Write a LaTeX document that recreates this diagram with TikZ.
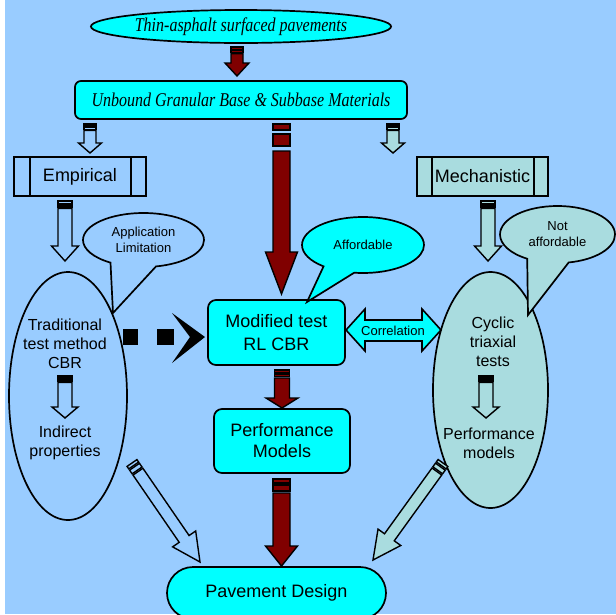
\documentclass[tikz,border=0pt]{standalone}
\usepackage{fontspec}
\setmainfont{Liberation Sans}
\newfontfamily\tmsfont[FakeStretch=0.82]{Liberation Serif}
\usetikzlibrary{calc,shapes.geometric,shapes.callouts}
\definecolor{bgblue}{HTML}{99CCFF}
\definecolor{cyanf}{HTML}{00FFFF}
\definecolor{dred}{HTML}{800000}
\definecolor{tealf}{HTML}{A9DCDF}
% block arrow: #1 tail, #2 tip, #3 shaft start, #4 half shaft, #5 half head, #6 head length, #7 style
\newcommand\barrow[7]{%
  \path ($(#1)!#3pt!(#2)$) coordinate (ba-s) ($(#2)!#6pt!(#1)$) coordinate (ba-h);
  \draw[#7] ($(ba-s)!#4pt!90:(#2)$) -- ($(ba-h)!#4pt!90:(#2)$) -- ($(ba-h)!#5pt!90:(#2)$) -- (#2)
    -- ($(ba-h)!#5pt!-90:(#2)$) -- ($(ba-h)!#4pt!-90:(#2)$) -- ($(ba-s)!#4pt!-90:(#2)$) -- cycle;}
% stripe: #1 tail, #2 tip, #3 from, #4 to, #5 half width, #6 style
\newcommand\bstripe[6]{%
  \path ($(#1)!#3pt!(#2)$) coordinate (bs-a) ($(#1)!#4pt!(#2)$) coordinate (bs-b);
  \draw[#6] ($(bs-a)!#5pt!90:(#2)$) -- ($(bs-b)!#5pt!90:(#2)$) -- ($(bs-b)!#5pt!-90:(#2)$) -- ($(bs-a)!#5pt!-90:(#2)$) -- cycle;}
\begin{document}
\begin{tikzpicture}[x=1pt,y=-1pt,
  arr/.style={draw=black,line width=1.4pt,line join=miter},
  redarr/.style={arr,fill=dred},
  bluearr/.style={arr,fill=bgblue},
  tealarr/.style={arr,fill=tealf},
  shp/.style={draw=black,line width=1.7pt,inner sep=0pt},
  fA/.style={font=\fontsize{18}{22}\selectfont},
  fB/.style={font=\fontsize{16}{19}\selectfont},
  fC/.style={font=\fontsize{13}{15.5}\selectfont},
  ital/.style={font=\tmsfont\itshape\fontsize{19.5}{22}\selectfont}]
\useasboundingbox (0,0) rectangle (616,614);
\fill[white] (0,0) rectangle (616,614);
\fill[bgblue] (5,0) rectangle (616,614);

% nodes
\node[shp,ellipse,fill=cyanf,minimum width=298,minimum height=33,ital] (top) at (241,26.5) {Thin-asphalt surfaced pavements};
\node[shp,rounded corners=6,fill=cyanf,minimum width=332,minimum height=38,ital] (unb) at (241,100) {Unbound Granular Base \& Subbase Materials};

\node[shp,fill=bgblue,minimum width=132,minimum height=39,fA] (emp) at (80,176.5) {Empirical};
\draw[line width=1.7pt] ($(emp.north west)+(17,0)$) -- ($(emp.south west)+(17,0)$);
\draw[line width=1.7pt] ($(emp.north east)+(-16,0)$) -- ($(emp.south east)+(-16,0)$);
\node[shp,fill=tealf,minimum width=131,minimum height=39] (mech) at (482.5,176.5) {};
\draw[line width=1.7pt] ($(mech.north west)+(16,0)$) -- ($(mech.south west)+(16,0)$);
\draw[line width=1.7pt] ($(mech.north east)+(-15,0)$) -- ($(mech.south east)+(-15,0)$);
\node[fA] (mechtxt) at (mech.center) {Mechanistic};

\node[shp,ellipse,fill=bgblue,minimum width=118,minimum height=248] (trad) at (68,396) {};
\node[fB,align=center] (tradA) at (65,344) {Traditional\\test method\\CBR};
\node[fB,align=center] (tradB) at (65,443) {Indirect\\properties};

\node[shp,ellipse,fill=tealf,minimum width=115,minimum height=236] (cyc) at (490.5,390) {};
\node[fB,align=center] (cycA) at (493,342) {Cyclic\\triaxial\\tests};
\node[fB,align=center] (cycB) at (489,443) {Performance\\models};

\node[shp,rounded corners=8,fill=cyanf,minimum width=137,minimum height=65,align=center,font=\fontsize{18}{23}\selectfont] (mod) at (276.5,332.5) {Modified test\\RL CBR};
\node[shp,rounded corners=8,fill=cyanf,minimum width=136,minimum height=64,align=center,font=\fontsize{18}{21}\selectfont] (perf) at (282,441) {Performance\\Models};
\node[shp,rounded corners=26,fill=cyanf,minimum width=219,minimum height=52,fA] (pav) at (276.5,593) {Pavement Design};

% callouts
\node[shp,ellipse callout,fill=bgblue,minimum width=121,minimum height=54,callout absolute pointer={(113,313)},callout pointer arc=45,align=center,fC] (appl) at (143.5,240) {Application\\Limitation};
\node[shp,ellipse callout,fill=cyanf,minimum width=122,minimum height=56,callout absolute pointer={(307,302)},callout pointer arc=32,align=center,fC] (aff) at (363,245) {Affordable};
\node[shp,ellipse callout,fill=tealf,minimum width=115,minimum height=57,callout absolute pointer={(528,315)},callout pointer arc=43,align=center,font=\fontsize{13}{16}\selectfont] (naff) at (557.5,234.5) {Not\\affordable};

% arrow end points
\coordinate (a1s) at (237,47);    \coordinate (a1e) at (237,76);
\coordinate (a2s) at (90,124);    \coordinate (a2e) at (90,153);
\coordinate (a3s) at (393,124);   \coordinate (a3e) at (393,153);
\coordinate (a4s) at (281.5,124); \coordinate (a4e) at (281.5,294);
\coordinate (a5s) at (65,201);    \coordinate (a5e) at (65,261);
\coordinate (a6s) at (488,201);   \coordinate (a6e) at (488,261);
\coordinate (a7s) at (65,376);    \coordinate (a7e) at (65,418);
\coordinate (a8s) at (486,376);   \coordinate (a8e) at (486,418);
\coordinate (a9s) at (282,370);   \coordinate (a9e) at (282,408);
\coordinate (a10s) at (281.5,479); \coordinate (a10e) at (281.5,566);
\coordinate (a11s) at (132,463);  \coordinate (a11e) at (200,562);
\coordinate (a12s) at (443,463);  \coordinate (a12e) at (373,560);

% top -> unbound
\bstripe{a1s}{a1e}{0}{2.2}{6}{redarr}\bstripe{a1s}{a1e}{3.4}{5.4}{6}{redarr}
\barrow{a1s}{a1e}{6.6}{6}{12}{13}{redarr}
% unbound -> empirical / mechanistic
\bstripe{a2s}{a2e}{0}{2}{6}{bluearr}\bstripe{a2s}{a2e}{3.2}{5.2}{6}{bluearr}
\barrow{a2s}{a2e}{6.4}{6}{11.5}{10}{bluearr}
\bstripe{a3s}{a3e}{0}{2}{6}{tealarr}\bstripe{a3s}{a3e}{3.2}{5.2}{6}{tealarr}
\barrow{a3s}{a3e}{6.4}{6}{11.5}{10}{tealarr}
% unbound -> modified
\bstripe{a4s}{a4e}{0}{6}{8.5}{redarr}\bstripe{a4s}{a4e}{10}{22}{8.5}{redarr}
\barrow{a4s}{a4e}{27}{8.5}{16}{42}{redarr}
% empirical -> traditional, mechanistic -> cyclic
\bstripe{a5s}{a5e}{0}{2.5}{7}{bluearr}\bstripe{a5s}{a5e}{4}{6}{7}{bluearr}
\barrow{a5s}{a5e}{7.5}{7}{13.5}{15}{bluearr}
\bstripe{a6s}{a6e}{0}{2.5}{7}{tealarr}\bstripe{a6s}{a6e}{4}{6}{7}{tealarr}
\barrow{a6s}{a6e}{7.5}{7}{13.5}{15}{tealarr}
% inner arrows
\bstripe{a7s}{a7e}{0}{2}{7}{bluearr}\bstripe{a7s}{a7e}{3.5}{5}{7}{bluearr}
\barrow{a7s}{a7e}{6.5}{7}{13}{11}{bluearr}
\bstripe{a8s}{a8e}{0}{2}{7}{tealarr}\bstripe{a8s}{a8e}{3.5}{5}{7}{tealarr}
\barrow{a8s}{a8e}{6.5}{7}{13}{11}{tealarr}
% modified -> performance
\bstripe{a9s}{a9e}{0}{3}{7.5}{redarr}\bstripe{a9s}{a9e}{4.5}{6.5}{7.5}{redarr}
\barrow{a9s}{a9e}{8}{7.5}{16}{10}{redarr}
% performance -> pavement
\bstripe{a10s}{a10e}{0}{4}{8.5}{redarr}\bstripe{a10s}{a10e}{6}{12}{8.5}{redarr}
\barrow{a10s}{a10e}{14}{8.5}{16}{20}{redarr}
% diagonals
\bstripe{a11s}{a11e}{0}{3}{6}{bluearr}\bstripe{a11s}{a11e}{4.5}{9}{6}{bluearr}
\barrow{a11s}{a11e}{10.5}{6}{14}{28}{bluearr}
\bstripe{a12s}{a12e}{0}{3}{6}{tealarr}\bstripe{a12s}{a12e}{4.5}{9}{6}{tealarr}
\barrow{a12s}{a12e}{10.5}{6}{14}{28}{tealarr}

% dashed black arrow traditional -> modified
\fill[black] (123,329) rectangle (138,345);
\fill[black] (157,329) rectangle (174,345);
\fill[black] (172,313) -- (205,337) -- (172,363) -- (190,337) -- cycle;

% correlation double arrow
\draw[line width=1.6pt,line join=miter,fill=cyanf] (346,330) -- (365,309) -- (365,320) -- (422,320) -- (422,309) -- (441,330)
  -- (422,351) -- (422,341) -- (365,341) -- (365,351) -- cycle;
\node[fC] (corr) at (393,331) {Correlation};
\end{tikzpicture}
\end{document}
